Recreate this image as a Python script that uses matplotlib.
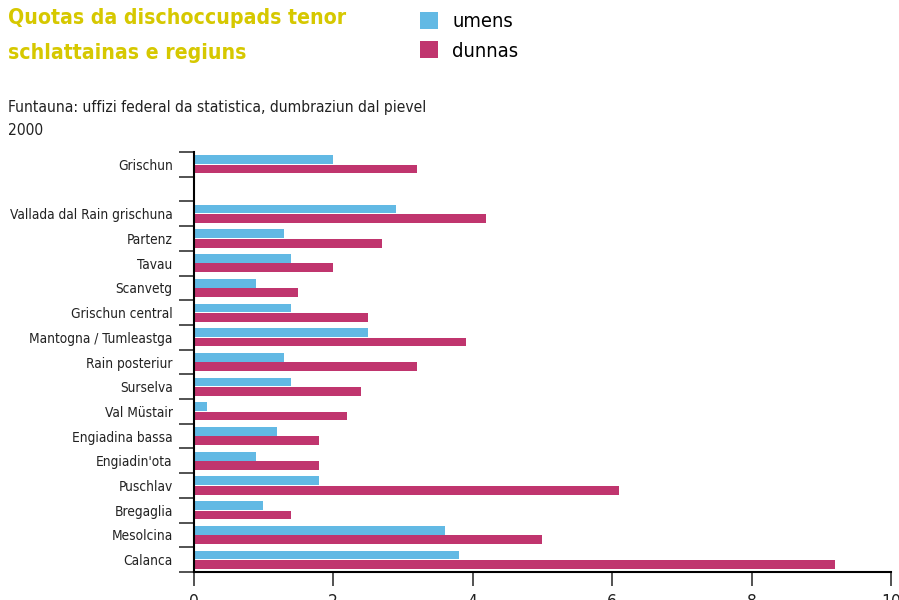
import matplotlib
matplotlib.use("Agg")
import matplotlib.pyplot as plt
from matplotlib.patches import Patch
import numpy as np

categories = ["Grischun", "", "Vallada dal Rain grischuna", "Partenz", "Tavau", "Scanvetg",
              "Grischun central", "Mantogna / Tumleastga", "Rain posteriur", "Surselva",
              "Val Müstair", "Engiadina bassa", "Engiadin'ota", "Puschlav", "Bregaglia",
              "Mesolcina", "Calanca"]
umens = [2.0, np.nan, 2.9, 1.3, 1.4, 0.9, 1.4, 2.5, 1.3, 1.4, 0.2, 1.2, 0.9, 1.8, 1.0, 3.6, 3.8]
dunnas = [3.2, np.nan, 4.2, 2.7, 2.0, 1.5, 2.5, 3.9, 3.2, 2.4, 2.2, 1.8, 1.8, 6.1, 1.4, 5.0, 9.2]
xticks = [0, 2, 4, 6, 8, 10]

title = "Quotas da dischoccupads tenor\nschlattainas e regiuns"
source = "Funtauna: uffizi federal da statistica, dumbraziun dal pievel\n2000"

BLUE = "#62b9e4"
RED = "#c0356e"
TITLE_C = "#d6c800"

plt.rcParams['font.family'] = ["DejaVu Sans"]
plt.rcParams['font.stretch'] = 'condensed'

fig = plt.figure(figsize=(8.99, 6.0), dpi=100)
ax = fig.add_axes([193.5/899, 1-572/600, (891-193.5)/899, (572-152)/600])

n = len(categories)
pos = np.arange(n)
h = 0.355
ax.barh(pos - 0.19, umens, height=h, color=BLUE, linewidth=0)
ax.barh(pos + 0.19, dunnas, height=h, color=RED, linewidth=0)

ax.set_ylim(n - 0.5, -0.5)
ax.set_xlim(0, 10)
ax.set_xticks(xticks)
ax.set_xticklabels([str(t) for t in xticks])
ax.set_yticks(pos)
ax.set_yticklabels(categories)
ax.set_yticks(np.arange(n + 1) - 0.5, minor=True)
ax.tick_params(axis='y', which='major', length=0, pad=15, labelsize=9.8, labelcolor="#222222")
ax.tick_params(axis='y', which='minor', length=11, width=1.3, color="#444444", direction='out')
ax.tick_params(axis='x', length=10, width=1.3, color="#444444", labelsize=12.5, labelcolor="#222222", pad=5)

for s in ["top", "right"]:
    ax.spines[s].set_visible(False)
for s in ["left", "bottom"]:
    ax.spines[s].set_linewidth(1.5)
    ax.spines[s].set_color("black")

fig.text(8/899, 1-8/600, title, color=TITLE_C, fontsize=15.2, fontweight='bold',
         va='top', ha='left', linespacing=1.95)
fig.text(8/899, 1-100/600, source, color="#222222", fontsize=11.2, va='top', ha='left',
         linespacing=1.7)

handles = [Patch(facecolor=BLUE, label="umens"), Patch(facecolor=RED, label="dunnas")]
fig.legend(handles=handles, loc='upper left', bbox_to_anchor=(412/899, 1-4/600),
           frameon=False, fontsize=14.5, handlelength=0.9, handleheight=0.9,
           handletextpad=0.7, labelspacing=0.5, borderaxespad=0)

fig.savefig("out.png", dpi=100)
